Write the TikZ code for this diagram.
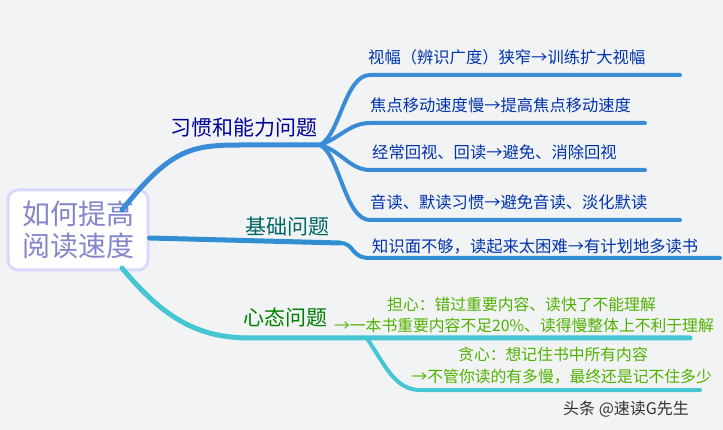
\documentclass[tikz,border=0pt]{standalone}
\usepackage{fontspec}
\setmainfont{Noto Sans CJK SC}
\begin{document}
\begin{tikzpicture}[x=1pt,y=-1pt,line cap=round,
  br/.style={line width=5pt},
  lf/.style={line width=4pt},
  leaf/.style={font=\fontsize{16.3}{18}\selectfont,text=blue!60!black!80!cyan,anchor=base west,inner sep=0},
  leafg/.style={font=\fontsize{15.8}{18}\selectfont,text=lime!60!green!70!black,anchor=base east,inner sep=0},
  main/.style={font=\fontsize{21}{24}\selectfont,anchor=base west,inner sep=0}]
\definecolor{bg}{HTML}{F2F3F5}
\definecolor{b1}{HTML}{3A8CD6}
\definecolor{b2}{HTML}{2F8FD0}
\definecolor{b3}{HTML}{45C6D2}
\fill[bg] (0,0) rectangle (723,430);
\useasboundingbox (0,0) rectangle (723,430);
% center
\node[fill=white,rounded corners=10pt,draw=blue!15,line width=3pt,minimum width=140pt,minimum height=80pt,
  align=center,font=\fontsize{28}{32}\selectfont,text=blue!35!white!80!black] (c) at (78,230) {如何提高\\阅读速度};
% branch 1
\coordinate (h1) at (320,145);
\draw[b1,br] (122,210) .. controls (170,150) and (190,145) .. (240,145) -- (h1);
\node[main,text=blue!60!black] (t1) at (170,136) {习惯和能力问题};
\coordinate (l1) at (680,75);\coordinate (l2) at (645,123);\coordinate (l3) at (645,170);\coordinate (l4) at (680,220);
\draw[b1,lf] (h1) .. controls (340,135) and (345,75) .. (370,75) -- (l1);
\draw[b1,lf] (h1) .. controls (340,138) and (350,123) .. (370,123) -- (l2);
\draw[b1,lf] (h1) .. controls (340,150) and (350,170) .. (370,170) -- (l3);
\draw[b1,lf] (h1) .. controls (340,155) and (345,220) .. (370,220) -- (l4);
\node[leaf] (a1) at (368,64) {视幅（辨识广度）狭窄→训练扩大视幅};
\node[leaf] (a2) at (370,112) {焦点移动速度慢→提高焦点移动速度};
\node[leaf] (a3) at (372,159) {经常回视、回读→避免、消除回视};
\node[leaf] (a4) at (370,209) {音读、默读习惯→避免音读、淡化默读};
% branch 2
\coordinate (h2) at (340,243);\coordinate (e2) at (720,258);
\draw[b2,br] (c.east) ++(0,8) -- (h2);
\draw[b2,lf] (h2) .. controls (355,243) and (350,258) .. (370,258) -- (e2);
\node[main,text=teal!80!black] (t2) at (245,235) {基础问题};
\node[leaf] (a5) at (372,253) {知识面不够，读起来太困难→有计划地多读书};
% branch 3
\coordinate (h3) at (340,338);
\draw[b3,br] (122,268) .. controls (165,320) and (200,338) .. (250,338) -- (h3) -- (690,338);
\node[main,text=green!50!black] (t3) at (243,326) {心态问题};
\coordinate (e3) at (700,390);
\draw[b3,lf] (368,340) .. controls (385,365) and (395,390) .. (420,390) -- (e3);
\node[leafg] (a6) at (656,311) {担心：错过重要内容、读快了不能理解};
\node[leafg] (a7) at (714,331) {→一本书重要内容不足20\%、读得慢整体上不利于理解};
\node[leafg] (a8) at (648,360) {贪心：想记住书中所有内容};
\node[leafg] (a9) at (712,382) {→不管你读的有多慢，最终还是记不住多少};
\node[anchor=base west,inner sep=0,font=\fontsize{16}{18}\selectfont,text=black!80] (w) at (563,414) {头条 @速读G先生};
\end{tikzpicture}
\end{document}
